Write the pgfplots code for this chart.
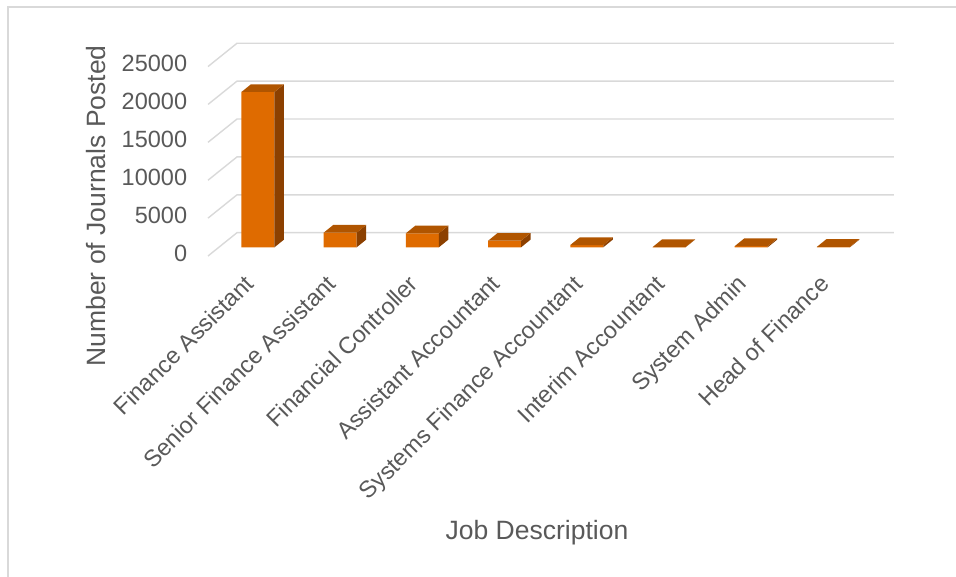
\documentclass[border=0pt]{standalone}
\usepackage{pgfplots}
\pgfplotsset{compat=1.18}
\usepackage{fontspec}
\setmainfont{Liberation Sans}
\definecolor{txt}{HTML}{595959}
\definecolor{gridc}{HTML}{D9D9D9}
\definecolor{barfront}{HTML}{DF6B00}
\definecolor{barside}{HTML}{8C4000}
\definecolor{bartop}{HTML}{B05500}
\begin{document}
\begin{tikzpicture}
\begin{axis}[
  scale only axis, width=709pt, height=204.6pt,
  xmin=-0.815, xmax=7.81, ymin=0, ymax=27000,
  clip=false,
  axis line style={draw=none},
  major tick length=0pt,
  xtick={0,...,7},
  xticklabels={Finance Assistant, Senior Finance Assistant, Financial Controller, Assistant Accountant, Systems Finance Accountant, Interim Accountant, System Admin, Head of Finance},
  xticklabel style={xshift=-15pt, yshift=-26pt, rotate=45, anchor=north east, inner sep=0pt, font=\fontsize{23.5}{28}\selectfont, text=txt},
  ytick={0,5000,...,25000},
  yticklabel style={xshift=-3.7pt, yshift=-6pt, anchor=east, inner sep=0pt, font=\fontsize{23.5}{28}\selectfont, text=txt},
  scaled y ticks=false,
  /pgf/number format/1000 sep={},
  /pgf/number format/assume math mode=true,
]
\coordinate (O) at (rel axis cs:0,0);
% gridlines (floor diagonal + back wall)
\draw[gridc, line width=1.4pt] (axis cs:-0.608,-1148) -- (axis cs:-0.2555,1927) -- (axis cs:7.737,1927);
\draw[gridc, line width=1.4pt] (axis cs:-0.608,3852) -- (axis cs:-0.2555,6927) -- (axis cs:7.737,6927);
\draw[gridc, line width=1.4pt] (axis cs:-0.608,8852) -- (axis cs:-0.2555,11927) -- (axis cs:7.737,11927);
\draw[gridc, line width=1.4pt] (axis cs:-0.608,13852) -- (axis cs:-0.2555,16927) -- (axis cs:7.737,16927);
\draw[gridc, line width=1.4pt] (axis cs:-0.608,18852) -- (axis cs:-0.2555,21927) -- (axis cs:7.737,21927);
\draw[gridc, line width=1.4pt] (axis cs:-0.608,23852) -- (axis cs:-0.2555,26927) -- (axis cs:7.737,26927);
% front faces
\addplot[ybar, bar width=33pt, bar shift=0pt, fill=barfront, draw=none] coordinates {(0,20500) (1,1930) (2,1850) (3,870) (4,300) (5,20) (6,150) (7,60)};
% side faces
\addplot[fill=barside, draw=none, no markers] coordinates {(0.2007,0)(0.3163,1016)(0.3163,21516)(0.2007,20500)};
\addplot[fill=barside, draw=none, no markers] coordinates {(1.2007,0)(1.3163,1016)(1.3163,2946)(1.2007,1930)};
\addplot[fill=barside, draw=none, no markers] coordinates {(2.2007,0)(2.3163,1016)(2.3163,2866)(2.2007,1850)};
\addplot[fill=barside, draw=none, no markers] coordinates {(3.2007,0)(3.3163,1016)(3.3163,1886)(3.2007,870)};
\addplot[fill=barside, draw=none, no markers] coordinates {(4.2007,0)(4.3163,1016)(4.3163,1316)(4.2007,300)};
\addplot[fill=barside, draw=none, no markers] coordinates {(5.2007,0)(5.3163,1016)(5.3163,1036)(5.2007,20)};
\addplot[fill=barside, draw=none, no markers] coordinates {(6.2007,0)(6.3163,1016)(6.3163,1166)(6.2007,150)};
\addplot[fill=barside, draw=none, no markers] coordinates {(7.2007,0)(7.3163,1016)(7.3163,1076)(7.2007,60)};
% top faces
\addplot[fill=bartop, draw=none, no markers] coordinates {(-0.2007,20500)(0.2007,20500)(0.3163,21516)(-0.0851,21516)};
\addplot[fill=bartop, draw=none, no markers] coordinates {(0.7993,1930)(1.2007,1930)(1.3163,2946)(0.9149,2946)};
\addplot[fill=bartop, draw=none, no markers] coordinates {(1.7993,1850)(2.2007,1850)(2.3163,2866)(1.9149,2866)};
\addplot[fill=bartop, draw=none, no markers] coordinates {(2.7993,870)(3.2007,870)(3.3163,1886)(2.9149,1886)};
\addplot[fill=bartop, draw=none, no markers] coordinates {(3.7993,300)(4.2007,300)(4.3163,1316)(3.9149,1316)};
\addplot[fill=bartop, draw=none, no markers] coordinates {(4.7993,20)(5.2007,20)(5.3163,1036)(4.9149,1036)};
\addplot[fill=bartop, draw=none, no markers] coordinates {(5.7993,150)(6.2007,150)(6.3163,1166)(5.9149,1166)};
\addplot[fill=bartop, draw=none, no markers] coordinates {(6.7993,60)(7.2007,60)(7.3163,1076)(6.9149,1076)};
\end{axis}
\begin{scope}[shift={(O)}, xshift=-191pt, yshift=-329.7pt, x=1pt, y=1pt]
\path[use as bounding box] (0,0) rectangle (956,577);
\draw[gridc, line width=2pt] (8,0) -- (8,570) -- (956,570);
\node[rotate=90, text=txt, font=\fontsize{26.5}{32}\selectfont] at (96,371) {Number of Journals Posted};
\node[text=txt, font=\fontsize{26.5}{32}\selectfont] at (537,44) {Job Description};
\end{scope}
\end{tikzpicture}
\end{document}
